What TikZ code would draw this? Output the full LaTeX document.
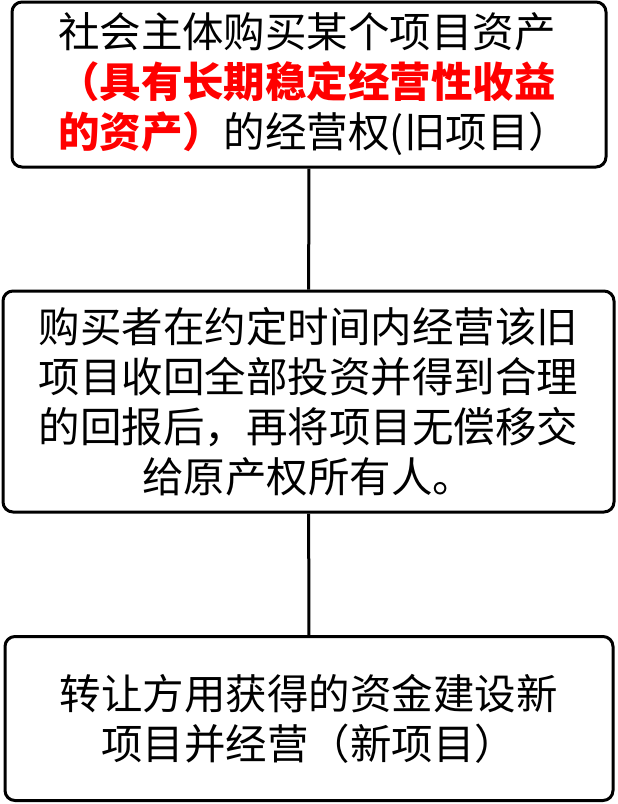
\documentclass[tikz,border=0pt]{standalone}
\usepackage{fontspec}
\setmainfont{Noto Sans CJK SC}
\usepackage{tikz}

\newcommand{\redtxt}[1]{\textcolor{red}{\bfseries #1}}
\tikzset{
  stagebox/.style={draw, line width=3pt, rounded corners=10pt, inner sep=0pt,
    font=\fontsize{41.5}{50}\selectfont},
  link/.style={line width=3pt}
}

\begin{document}
\begin{tikzpicture}[x=1pt,y=1pt,yscale=-1,xscale=1]
\useasboundingbox (0,0) rectangle (618,804);

% Old project box
\node [stagebox, minimum width=594pt, minimum height=165pt, text width=502pt, align=left] (old) at (309,84.5)
  {社会主体购买某个项目资产\\\redtxt{（具有长期稳定经营性收益}\\\redtxt{的资产）}的经营权(旧项目）};
% Operation box
\node [stagebox, minimum width=611pt, minimum height=221pt, text width=545pt, align=center] (operate) at (308.5,401.5)
  {购买者在约定时间内经营该旧\\项目收回全部投资并得到合理\\的回报后，再将项目无偿移交\\给原产权所有人。};
% New project box
\node [stagebox, minimum width=608pt, minimum height=164pt, text width=545pt, align=center] (new) at (309,718.5)
  {转让方用获得的资金建设新\\项目并经营（新项目）};

% Connectors
\draw [link] (old) -- (operate);
\draw [link] (operate) -- (new);

\end{tikzpicture}
\end{document}
